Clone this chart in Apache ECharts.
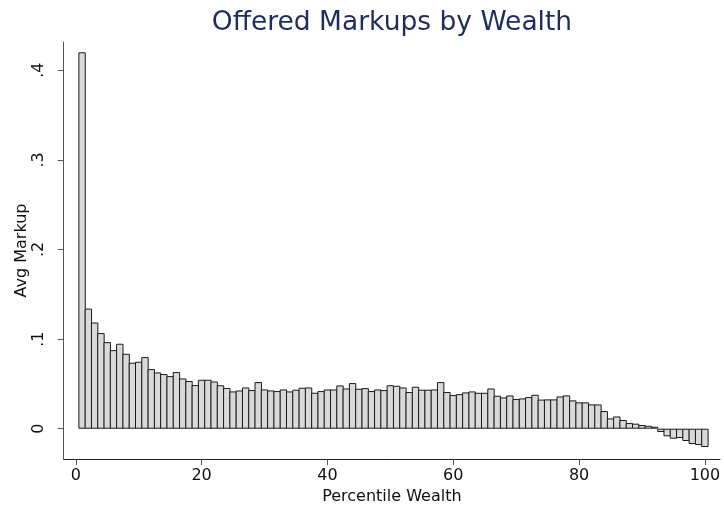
<!DOCTYPE html>
<html>
<head>
<meta charset="utf-8">
<script src="https://cdn.jsdelivr.net/npm/echarts@6/dist/echarts.min.js"></script>
<style>
  html, body { margin: 0; padding: 0; background: #fff; }
  #chart { width: 724px; height: 515px; }
</style>
</head>
<body>
<div id="chart"></div>
<script>
// wealth percentile of each bar
const percentiles = [
  1, 2, 3, 4, 5, 6, 7, 8, 9, 10, 11, 12, 13, 14, 15, 16, 17, 18, 19, 20,
  21, 22, 23, 24, 25, 26, 27, 28, 29, 30, 31, 32, 33, 34, 35, 36, 37, 38, 39, 40,
  41, 42, 43, 44, 45, 46, 47, 48, 49, 50, 51, 52, 53, 54, 55, 56, 57, 58, 59, 60,
  61, 62, 63, 64, 65, 66, 67, 68, 69, 70, 71, 72, 73, 74, 75, 76, 77, 78, 79, 80,
  81, 82, 83, 84, 85, 86, 87, 88, 89, 90, 91, 92, 93, 94, 95, 96, 97, 98, 99, 100
]
// average offered markup per percentile
const avgMarkup = [
  0.420, 0.134, 0.1185, 0.1067, 0.0966, 0.0877, 0.0948, 0.0836, 0.0736, 0.0747,
  0.0799, 0.0665, 0.0628, 0.0610, 0.0587, 0.0632, 0.0561, 0.0532, 0.0487, 0.0546,
  0.0546, 0.0527, 0.0485, 0.0455, 0.0416, 0.0427, 0.0460, 0.0431, 0.0520, 0.0438,
  0.0427, 0.0420, 0.0438, 0.0416, 0.0435, 0.0457, 0.0460, 0.0401, 0.0420, 0.0438,
  0.0438, 0.0483, 0.0449, 0.0509, 0.0446, 0.0453, 0.0420, 0.0438, 0.0431, 0.0485,
  0.0479, 0.0460, 0.0409, 0.0468, 0.0435, 0.0435, 0.0438, 0.0520, 0.0409, 0.0375,
  0.0386, 0.0405, 0.0416, 0.0401, 0.0401, 0.0449, 0.0368, 0.0349, 0.0371, 0.0331,
  0.0338, 0.0353, 0.0379, 0.0325, 0.0327, 0.0327, 0.0360, 0.0372, 0.0316, 0.0294,
  0.0294, 0.0271, 0.0271, 0.0197, 0.0115, 0.0137, 0.0097, 0.0063, 0.0056, 0.0041,
  0.0033, 0.0022, -0.0037, -0.0085, -0.0111, -0.0104, -0.0137, -0.0171, -0.0182, -0.0204
]
const xTicks = [0, 20, 40, 60, 80, 100]
const yTicks = [0, 0.1, 0.2, 0.3, 0.4]

const chart = echarts.init(document.getElementById('chart'))
const font = 'DejaVu Sans'

chart.setOption({
  animation: false,
  title: {
    text: 'Offered Markups by Wealth',
    left: 387,
    textAlign: 'center',
    top: 5,
    textStyle: {
      fontFamily: font,
      fontSize: 26.5,
      fontWeight: 'normal',
      color: '#1e2d5a'
    }
  },
  grid: {
    left: 63.7,
    right: 4,
    top: 42,
    bottom: 56
  },
  xAxis: {
    type: 'value',
    min: -1.92,
    max: 102.4,
    name: 'Percentile Wealth',
    nameLocation: 'middle',
    nameGap: 30,
    nameTextStyle: { fontFamily: font, fontSize: 16, color: '#111' },
    splitLine: { show: false },
    axisLine: {
      onZero: false,
      lineStyle: { color: '#222', width: 1 }
    },
    axisTick: {
      customValues: xTicks,
      length: 6,
      lineStyle: { color: '#555' }
    },
    axisLabel: {
      customValues: xTicks,
      margin: 9,
      fontFamily: font,
      fontSize: 16,
      color: '#111'
    }
  },
  yAxis: {
    type: 'value',
    min: -0.0338,
    max: 0.4315,
    name: 'Avg Markup',
    nameLocation: 'middle',
    nameGap: 34,
    nameMoveOverlap: false,
    nameRotate: 90,
    nameTextStyle: { fontFamily: font, fontSize: 16, color: '#111' },
    splitLine: { show: false },
    axisLine: {
      onZero: false,
      lineStyle: { color: '#555', width: 1 }
    },
    axisTick: {
      customValues: yTicks,
      length: 6,
      lineStyle: { color: '#555' }
    },
    axisLabel: {
      customValues: yTicks,
      rotate: 90,
      margin: 17,
      fontFamily: font,
      fontSize: 16,
      color: '#111',
      formatter: function (v) {
        if (v === 0) return '0'
        return String(Math.round(v * 10) / 10).replace(/^0/, '')
      }
    }
  },
  series: [
    {
      type: 'bar',
      barWidth: 7.4,
      data: percentiles.map((p, i) => [p, avgMarkup[i]]),
      itemStyle: {
        color: '#d9d9d9',
        borderColor: '#1a1a1a',
        borderWidth: 1
      }
    }
  ]
})
</script>
</body>
</html>
